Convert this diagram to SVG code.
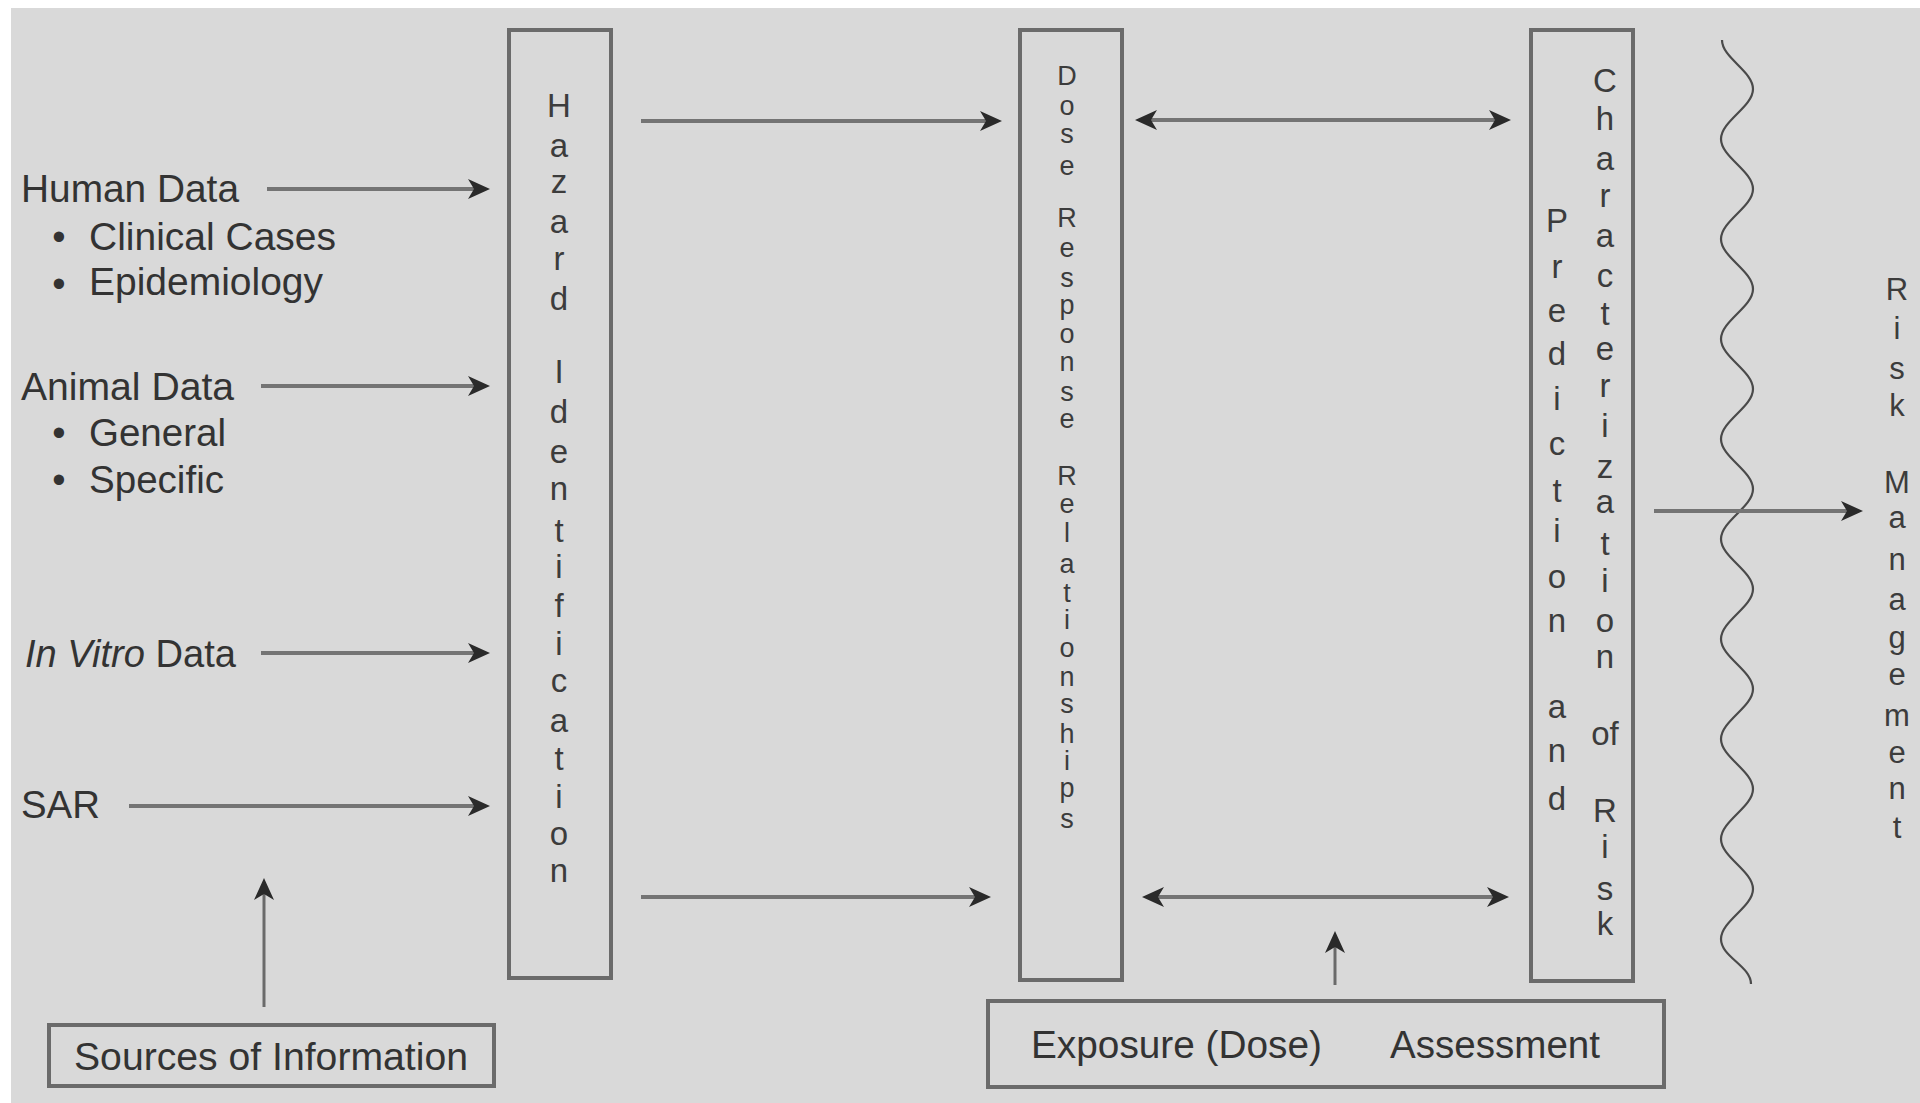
<svg xmlns="http://www.w3.org/2000/svg" width="1920" height="1103" viewBox="0 0 1920 1103">
<style>
.bg{fill:#d9d9d9}
.box{fill:none;stroke:#6b6b6b;stroke-width:4}
.t{font-family:"Liberation Sans",Arial,sans-serif;font-size:38px;fill:#333333}
.v{font-family:"Liberation Sans",Arial,sans-serif;font-size:33px;fill:#3c3c3c;text-anchor:middle}
.vd{font-size:27px}
.vr{font-size:31px}
.b{text-anchor:middle}
.c{fill:none;stroke:#747474;stroke-width:4}
.cn{fill:none;stroke:#6a6a6a;stroke-width:3}
.w{fill:none;stroke:#4a4a4a;stroke-width:2.2}
</style>
<defs>
<marker id="ah" markerUnits="userSpaceOnUse" markerWidth="26" markerHeight="24" viewBox="-24 -12 26 24" refX="-15" refY="0" orient="auto-start-reverse">
<path d="M0,0 L-22,-10 L-16,0 L-22,10 Z" fill="#2a2a2a"/>
</marker>
</defs>
<rect x="0" y="0" width="1920" height="1103" fill="#ffffff"/>
<rect class="bg" x="11" y="8" width="1909" height="1095"/>

<g id="human-data">
<text class="t" x="21" y="202" textLength="218" lengthAdjust="spacingAndGlyphs">Human Data</text>
<text class="t b" x="59" y="250">•</text>
<text class="t" x="89" y="250" textLength="247" lengthAdjust="spacingAndGlyphs">Clinical Cases</text>
<text class="t b" x="59" y="297">•</text>
<text class="t" x="89" y="295" textLength="234" lengthAdjust="spacingAndGlyphs">Epidemiology</text>
</g>
<g id="animal-data">
<text class="t" x="21" y="400" textLength="213" lengthAdjust="spacingAndGlyphs">Animal Data</text>
<text class="t b" x="59" y="446">•</text>
<text class="t" x="89" y="446" textLength="137" lengthAdjust="spacingAndGlyphs">General</text>
<text class="t b" x="59" y="493">•</text>
<text class="t" x="89" y="493" textLength="135" lengthAdjust="spacingAndGlyphs">Specific</text>
</g>
<g id="in-vitro-data">
<text class="t" x="25" y="667" textLength="211" lengthAdjust="spacingAndGlyphs"><tspan font-style="italic">In Vitro</tspan> Data</text>
</g>
<g id="sar">
<text class="t" x="21" y="818" textLength="79" lengthAdjust="spacingAndGlyphs">SAR</text>
</g>
<g id="sources-of-information">
<rect class="box" x="49" y="1025" width="445" height="61"/>
<text class="t" x="74" y="1070" textLength="394" lengthAdjust="spacingAndGlyphs">Sources of Information</text>
</g>

<g id="hazard-identification">
<rect class="box" x="509" y="30" width="102" height="948"/>
<text class="v"><tspan x="559" y="117">H</tspan><tspan x="559" y="157">a</tspan><tspan x="559" y="193">z</tspan><tspan x="559" y="233">a</tspan><tspan x="559" y="270">r</tspan><tspan x="559" y="310">d</tspan><tspan x="559" y="383">I</tspan><tspan x="559" y="423">d</tspan><tspan x="559" y="463">e</tspan><tspan x="559" y="500">n</tspan><tspan x="559" y="542">t</tspan><tspan x="559" y="578">i</tspan><tspan x="559" y="617">f</tspan><tspan x="559" y="655">i</tspan><tspan x="559" y="692">c</tspan><tspan x="559" y="732">a</tspan><tspan x="559" y="770">t</tspan><tspan x="559" y="808">i</tspan><tspan x="559" y="845">o</tspan><tspan x="559" y="882">n</tspan></text>
</g>

<g id="dose-response">
<rect class="box" x="1020" y="30" width="102" height="950"/>
<text class="v vd"><tspan x="1067" y="85">D</tspan><tspan x="1067" y="115">o</tspan><tspan x="1067" y="143">s</tspan><tspan x="1067" y="175">e</tspan><tspan x="1067" y="227">R</tspan><tspan x="1067" y="257">e</tspan><tspan x="1067" y="287">s</tspan><tspan x="1067" y="314">p</tspan><tspan x="1067" y="343">o</tspan><tspan x="1067" y="371">n</tspan><tspan x="1067" y="401">s</tspan><tspan x="1067" y="428">e</tspan><tspan x="1067" y="485">R</tspan><tspan x="1067" y="513">e</tspan><tspan x="1067" y="542">l</tspan><tspan x="1067" y="573">a</tspan><tspan x="1067" y="602">t</tspan><tspan x="1067" y="629">i</tspan><tspan x="1067" y="657">o</tspan><tspan x="1067" y="686">n</tspan><tspan x="1067" y="713">s</tspan><tspan x="1067" y="743">h</tspan><tspan x="1067" y="770">i</tspan><tspan x="1067" y="797">p</tspan><tspan x="1067" y="828">s</tspan></text>
</g>

<g id="risk-characterization">
<rect class="box" x="1531" y="30" width="102" height="951"/>
<text class="v"><tspan x="1557" y="232">P</tspan><tspan x="1557" y="278">r</tspan><tspan x="1557" y="322">e</tspan><tspan x="1557" y="365">d</tspan><tspan x="1557" y="410">i</tspan><tspan x="1557" y="455">c</tspan><tspan x="1557" y="502">t</tspan><tspan x="1557" y="542">i</tspan><tspan x="1557" y="588">o</tspan><tspan x="1557" y="632">n</tspan><tspan x="1557" y="718">a</tspan><tspan x="1557" y="762">n</tspan><tspan x="1557" y="810">d</tspan></text>
<text class="v"><tspan x="1605" y="92">C</tspan><tspan x="1605" y="130">h</tspan><tspan x="1605" y="170">a</tspan><tspan x="1605" y="207">r</tspan><tspan x="1605" y="247">a</tspan><tspan x="1605" y="287">c</tspan><tspan x="1605" y="325">t</tspan><tspan x="1605" y="360">e</tspan><tspan x="1605" y="397">r</tspan><tspan x="1605" y="437">i</tspan><tspan x="1605" y="478">z</tspan><tspan x="1605" y="513">a</tspan><tspan x="1605" y="555">t</tspan><tspan x="1605" y="592">i</tspan><tspan x="1605" y="632">o</tspan><tspan x="1605" y="668">n</tspan><tspan x="1605" y="745">of</tspan><tspan x="1605" y="822">R</tspan><tspan x="1605" y="858">i</tspan><tspan x="1605" y="900">s</tspan><tspan x="1605" y="935">k</tspan></text>
</g>

<g id="exposure-assessment">
<rect class="box" x="988" y="1001" width="676" height="86"/>
<text class="t" x="1031" y="1058" textLength="291" lengthAdjust="spacingAndGlyphs">Exposure (Dose)</text>
<text class="t" x="1390" y="1058" textLength="210" lengthAdjust="spacingAndGlyphs">Assessment</text>
</g>

<g id="boundary">
<path class="w" d="M1722,40 C1722,58 1753,71 1753,89 S1721,121 1721,139 S1753,171 1753,189 S1721,221 1721,239 S1753,271 1753,289 S1721,321 1721,339 S1753,371 1753,389 S1721,421 1721,439 S1753,471 1753,489 S1721,521 1721,539 S1753,571 1753,589 S1721,621 1721,639 S1753,671 1753,689 S1721,721 1721,739 S1753,771 1753,789 S1721,821 1721,839 S1753,871 1753,889 S1721,921 1721,939 S1751,966 1751,984"/>
</g>

<g id="risk-management">
<text class="v vr"><tspan x="1897" y="300">R</tspan><tspan x="1897" y="339">i</tspan><tspan x="1897" y="379">s</tspan><tspan x="1897" y="416">k</tspan><tspan x="1897" y="493">M</tspan><tspan x="1897" y="528">a</tspan><tspan x="1897" y="570">n</tspan><tspan x="1897" y="610">a</tspan><tspan x="1897" y="648">g</tspan><tspan x="1897" y="685">e</tspan><tspan x="1897" y="726">m</tspan><tspan x="1897" y="763">e</tspan><tspan x="1897" y="799">n</tspan><tspan x="1897" y="838">t</tspan></text>
</g>

<g id="connectors">
<line class="c" x1="267" y1="189" x2="475" y2="189" marker-end="url(#ah)"/>
<line class="c" x1="261" y1="386" x2="475" y2="386" marker-end="url(#ah)"/>
<line class="c" x1="261" y1="653" x2="475" y2="653" marker-end="url(#ah)"/>
<line class="c" x1="129" y1="806" x2="475" y2="806" marker-end="url(#ah)"/>
<line class="cn" x1="264" y1="1007" x2="264" y2="893" marker-end="url(#ah)"/>
<line class="c" x1="641" y1="121" x2="987" y2="121" marker-end="url(#ah)"/>
<line class="c" x1="641" y1="897" x2="976" y2="897" marker-end="url(#ah)"/>
<line class="c" x1="1150" y1="120" x2="1496" y2="120" marker-start="url(#ah)" marker-end="url(#ah)"/>
<line class="c" x1="1157" y1="897" x2="1494" y2="897" marker-start="url(#ah)" marker-end="url(#ah)"/>
<line class="cn" x1="1335" y1="985" x2="1335" y2="946" marker-end="url(#ah)"/>
<line class="c" x1="1654" y1="511" x2="1848" y2="511" marker-end="url(#ah)"/>
</g>
</svg>
